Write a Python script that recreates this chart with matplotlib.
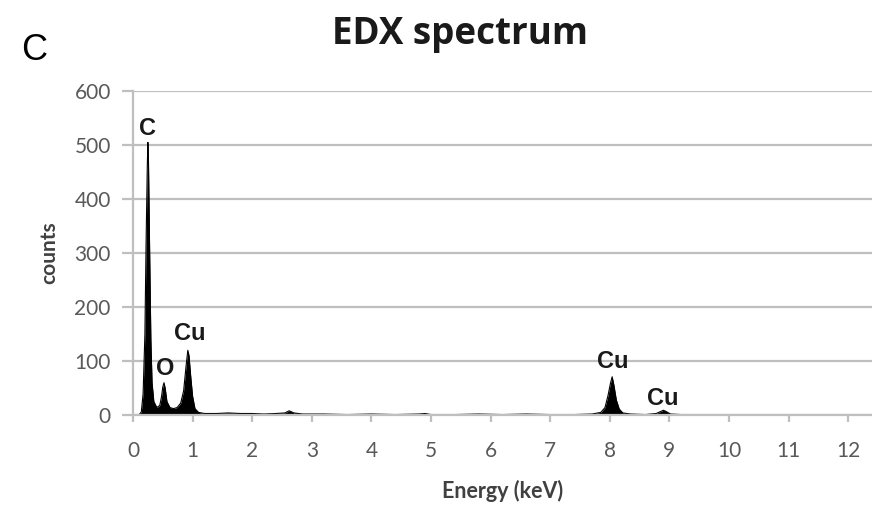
import matplotlib
matplotlib.use("Agg")
import matplotlib.pyplot as plt

# EDX spectrum: energy (keV) vs. counts
energy = [0.00, 0.10, 0.14, 0.17, 0.20, 0.22, 0.24, 0.25, 0.26, 0.28, 0.30, 0.32, 0.35,
          0.40, 0.45, 0.48, 0.50, 0.52, 0.54, 0.57, 0.62, 0.68, 0.74, 0.80, 0.85, 0.89,
          0.92, 0.94, 0.97, 1.00, 1.04, 1.10, 1.20, 1.40, 1.60, 1.80, 2.00, 2.20, 2.40,
          2.55, 2.62, 2.70, 2.85, 3.20, 3.60, 4.00, 4.40, 4.80, 4.90, 5.00, 5.40, 5.80,
          6.20, 6.60, 7.00, 7.40, 7.70, 7.85, 7.92, 7.97, 8.01, 8.04, 8.07, 8.11, 8.16,
          8.22, 8.35, 8.60, 8.78, 8.86, 8.90, 8.94, 9.02, 9.20, 9.60, 10.0, 10.4, 10.8,
          11.2, 11.6, 12.0, 12.4]
counts = [0, 0, 6, 40, 150, 320, 460, 505, 470, 300, 140, 60, 25,
          14, 18, 35, 52, 60, 50, 25, 14, 12, 14, 22, 45, 90,
          120, 110, 70, 35, 12, 5, 3, 3, 4, 3, 3, 2, 3,
          4, 8, 4, 2, 2, 1, 2, 1, 2, 3, 1, 1, 2,
          1, 2, 1, 1, 2, 5, 14, 36, 58, 71, 55, 28, 11,
          4, 2, 1, 3, 7, 9, 7, 2, 1, 1, 1, 1, 1,
          1, 1, 1, 1]

# peak labels: (text, energy, counts)
peak_labels = ["C", "O", "Cu", "Cu", "Cu"]
label_energy = [0.25, 0.54, 0.96, 8.05, 8.89]
label_counts = [531, 87, 152, 100, 31]

x_ticks = list(range(0, 13))
y_ticks = list(range(0, 601, 100))

GRID = "#bfbfbf"
TICKTXT = "#595959"

fig = plt.figure(figsize=(8.72, 5.05), dpi=100)
ax = fig.add_axes([0.1525, 0.178, 0.8475, 0.6416])

ax.fill_between(energy, counts, 0, color="black", linewidth=0)
ax.plot(energy, counts, color="black", linewidth=0.8)

ax.set_xlim(0, 12.4)
ax.set_ylim(0, 600)
ax.set_xticks(x_ticks)
ax.set_yticks(y_ticks)
ax.yaxis.grid(True, color=GRID, linewidth=1.6)
ax.set_axisbelow(True)

for side in ("top", "right"):
    ax.spines[side].set_visible(False)
for side in ("left", "bottom"):
    ax.spines[side].set_color(GRID)
    ax.spines[side].set_linewidth(1.6)

ax.tick_params(axis="y", length=8, width=1.6, color=GRID, direction="out", pad=8,
               labelsize=15, labelcolor=TICKTXT)
ax.tick_params(axis="x", length=5, width=1.6, color=GRID, direction="out", pad=14,
               labelsize=15, labelcolor=TICKTXT)
for lbl in ax.get_xticklabels() + ax.get_yticklabels():
    lbl.set_family("Lato")

ax.set_xlabel("Energy (keV)", fontsize=15.5, fontweight="bold", family="Lato",
              color="#404040", labelpad=13)
ax.set_ylabel("counts", fontsize=15, fontweight="bold", family="Lato",
              color="#404040", labelpad=11)

for t, xe, yc in zip(peak_labels, label_energy, label_counts):
    ax.text(xe, yc, t, ha="center", va="center", fontsize=17, fontweight="bold",
            family="Liberation Sans", color="#1a1a1a", clip_on=False)

fig.text(0.528, 0.932, "EDX spectrum", ha="center", va="center", fontsize=26.5,
         fontweight="bold", family="Open Sans", color="#1a1a1a")
fig.text(0.024, 0.9, "C", ha="left", va="center", fontsize=26,
         family="Liberation Sans", color="black")

fig.savefig("out.png", dpi=100)
